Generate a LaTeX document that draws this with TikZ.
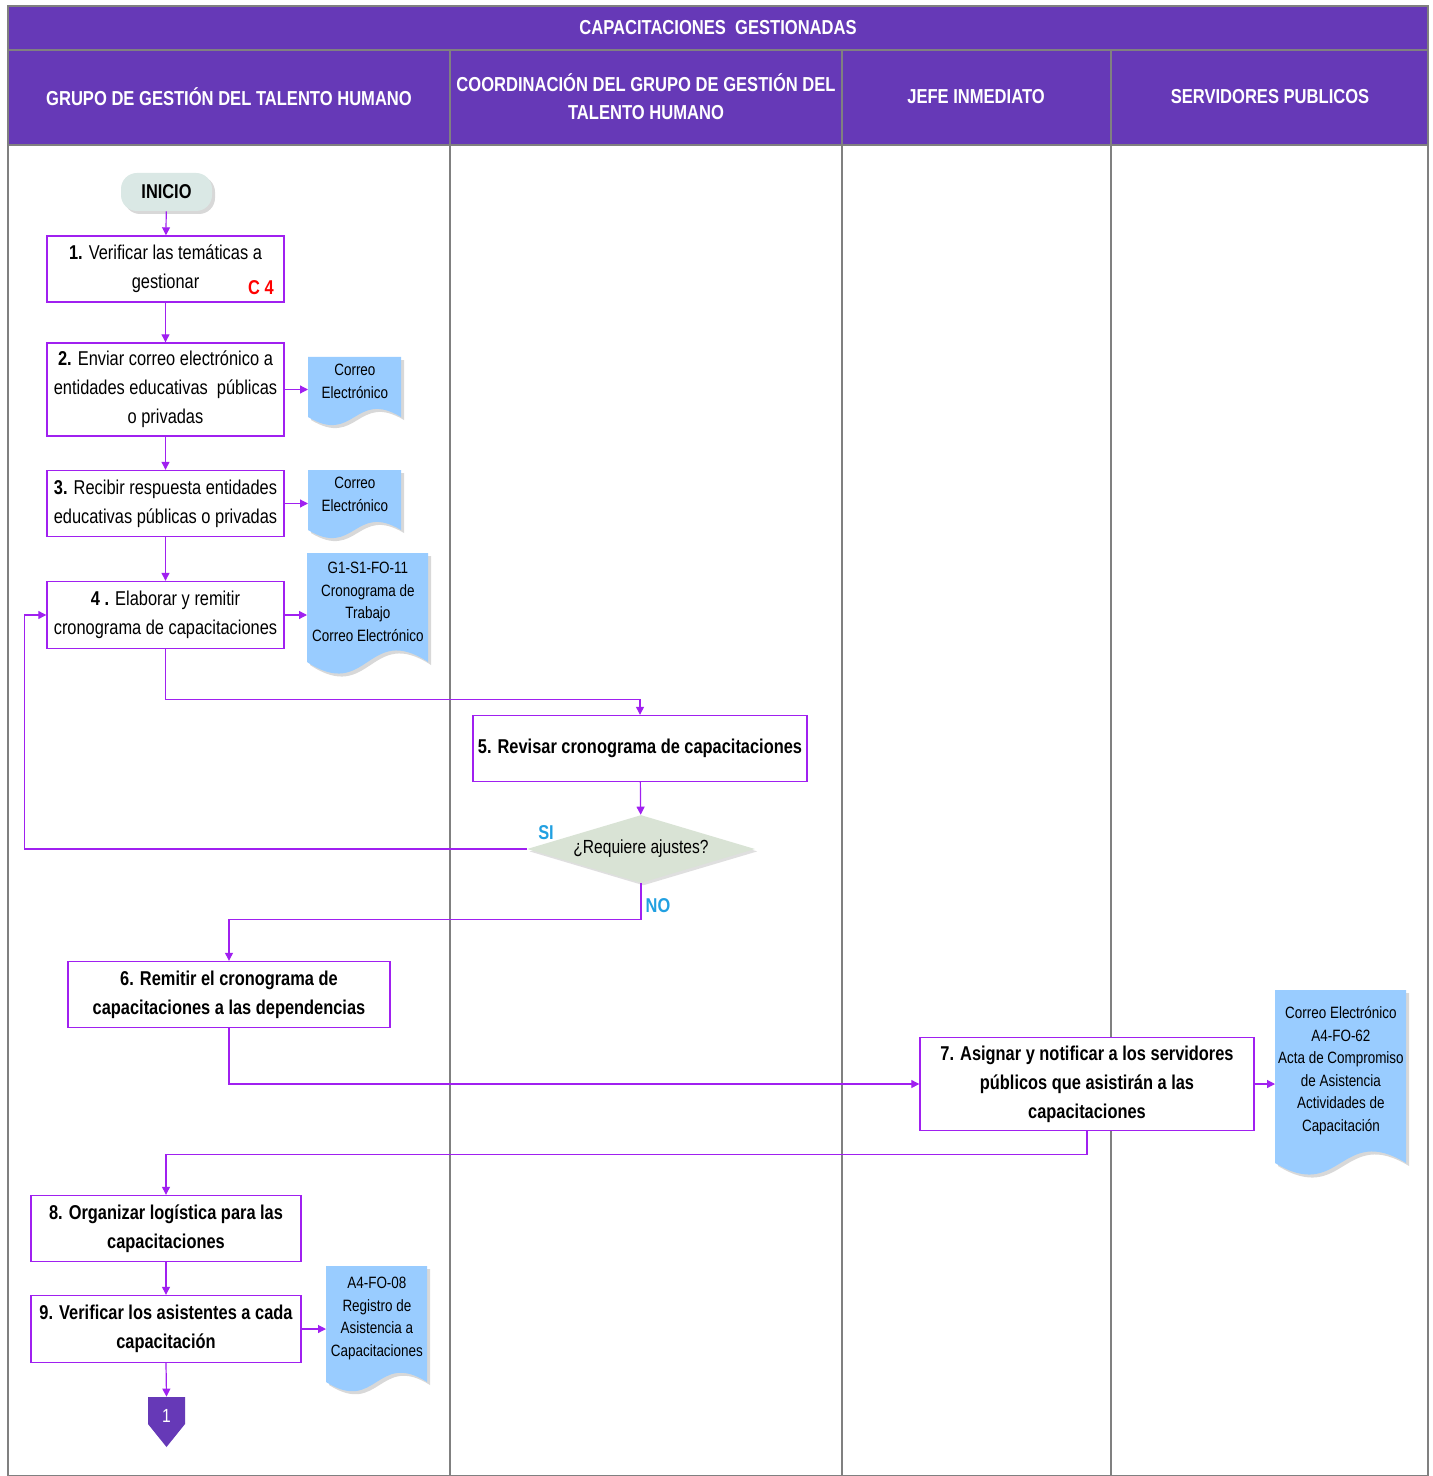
\documentclass[tikz,border=0pt]{standalone}
\usepackage{fontspec}
\setmainfont[FakeStretch=0.82]{Liberation Sans}
\usetikzlibrary{arrows.meta,shapes.geometric,shadows,calc}

\definecolor{headpurple}{RGB}{102,57,183}
\definecolor{flowpurple}{RGB}{160,32,240}
\definecolor{lanegrey}{RGB}{128,128,128}
\definecolor{docblue}{RGB}{153,204,255}
\definecolor{startfill}{RGB}{218,232,229}
\definecolor{decfill}{RGB}{217,227,213}
\definecolor{answerblue}{RGB}{33,160,225}

\tikzset{
  lane/.style={draw=lanegrey, line width=0.6pt},
  hdr/.style={text=white, align=center, font=\bfseries\fontsize{10.1}{14}\selectfont},
  task/.style={draw=flowpurple, line width=0.7pt, fill=white, align=center,
    inner sep=0pt, text=black, font=\fontsize{10}{14.5}\selectfont},
  boldtask/.style={task, font=\bfseries\fontsize{10}{14.5}\selectfont},
  flow/.style={draw=flowpurple, line width=0.6pt, -{Triangle[length=4pt,width=4pt]}},
  doctext/.style={align=center, inner sep=0pt, text=black, font=\fontsize{8.2}{11.25}\selectfont},
  docfill/.style={fill=docblue, drop shadow={shadow xshift=1.5pt, shadow yshift=-1.5pt, opacity=0.3}},
  startbox/.style={fill=startfill, rounded corners=8pt, minimum width=45.5pt, minimum height=19pt,
    inner sep=0pt, font=\bfseries\fontsize{10}{12}\selectfont,
    drop shadow={shadow xshift=1.5pt, shadow yshift=-1.5pt, opacity=0.3}},
  decision/.style={diamond, fill=decfill, inner sep=0pt, minimum width=114pt, minimum height=34pt,
    shape aspect=3.35, font=\fontsize{9.5}{12}\selectfont,
    drop shadow={shadow xshift=1.2pt, shadow yshift=-1.2pt, opacity=0.25}},
  answer/.style={text=answerblue, font=\bfseries\fontsize{10}{12}\selectfont, inner sep=0pt},
  offpage/.style={fill=headpurple},
}

% document symbol: name, left x, top y, width, y of wavy edge ends, wave amplitude, text
\newcommand\docnode[7]{%
  \path[docfill] (#2,#3) -- ({#2+#4},#3) -- ({#2+#4},#5)
    .. controls ({#2+0.5*#4},{#5-#6}) and ({#2+0.5*#4},{#5+#6}) .. (#2,#5) -- cycle;
  \node[doctext, anchor=north west, minimum width={#4*0.5pt},
    minimum height={(#5-#3-12)*0.5pt}] (#1) at (#2,#3) {#7};
}

\begin{document}
\begin{tikzpicture}[x=0.5pt, y=-0.5pt]
\useasboundingbox (0,0) rectangle (1432,1476);
\fill[white] (0,0) rectangle (1432,1476);

% swimlane frame
\fill[headpurple] (8,6) rectangle (1428,145);
\draw[lane] (8,6) rectangle (1428,1476);
\draw[lane] (8,50) -- (1428,50);
\draw[lane] (8,145) -- (1428,145);
\foreach \xx in {450,842,1111} \draw[lane] (\xx,50) -- (\xx,1476);

\node[hdr] (title) at (718,28) {CAPACITACIONES\ \ GESTIONADAS};
\node[hdr] (lane1) at (229,97) {GRUPO DE GESTIÓN DEL TALENTO HUMANO};
\node[hdr] (lane2) at (646,97) {COORDINACIÓN DEL GRUPO DE GESTIÓN DEL\\TALENTO HUMANO};
\node[hdr] (lane3) at (976,97) {JEFE INMEDIATO};
\node[hdr] (lane4) at (1270,97) {SERVIDORES PUBLICOS};

% documents
\docnode{d1}{308}{357}{93}{417}{28}{Correo\\Electrónico}
\docnode{d2}{308}{470}{93}{530}{28}{Correo\\Electrónico}
\docnode{d3}{307}{553}{121}{662}{40}{G1-S1-FO-11\\Cronograma de\\Trabajo\\Correo Electrónico}
\docnode{d4}{1275}{990}{131}{1163}{40}{Correo Electrónico\\A4-FO-62\\Acta de Compromiso\\de Asistencia\\Actividades de\\Capacitación}
\docnode{d5}{326}{1266}{101}{1382}{32}{A4-FO-08\\Registro de\\Asistencia a\\Capacitaciones}

% process steps
\node[startbox] (inicio) at (166.5,192) {INICIO};
\node[task, minimum width=118.5pt, minimum height=33pt] (b1) at (165.5,269)
  {\textbf{1.} Verificar las temáticas a\\gestionar};
\node[text=red, inner sep=0pt, font=\bfseries\fontsize{10}{12}\selectfont] (c4) at (261,288) {C 4};
\node[task, minimum width=118.5pt, minimum height=46.5pt] (b2) at (165.5,389.5)
  {\textbf{2.} Enviar correo electrónico a\\entidades educativas\ \ públicas\\o privadas};
\node[task, minimum width=118.5pt, minimum height=33pt] (b3) at (165.5,503.5)
  {\textbf{3.} Recibir respuesta entidades\\educativas públicas o privadas};
\node[task, minimum width=118.5pt, minimum height=33.5pt] (b4) at (165.5,615)
  {\textbf{4 .} Elaborar y remitir\\cronograma de capacitaciones};
\node[boldtask, minimum width=167pt, minimum height=33pt] (b5) at (640,748.5)
  {5. Revisar cronograma de capacitaciones};
\node[decision] (q) at (641,849) {¿Requiere ajustes?};
\node[boldtask, minimum width=161pt, minimum height=33pt] (b6) at (229,994.5)
  {6. Remitir el cronograma de\\capacitaciones a las dependencias};
\node[boldtask, minimum width=167pt, minimum height=46.5pt] (b7) at (1087,1084)
  {7. Asignar y notificar a los servidores\\públicos que asistirán a las\\capacitaciones};
\node[boldtask, minimum width=135pt, minimum height=33pt] (b8) at (166,1228.5)
  {8. Organizar logística para las\\capacitaciones};
\node[boldtask, minimum width=135pt, minimum height=33.5pt] (b9) at (166,1329)
  {9. Verificar los asistentes a cada\\capacitación};

% off-page connector
\fill[offpage] (148,1397) -- (185,1397) -- (185,1424) -- (166.5,1447) -- (148,1424) -- cycle;
\node[text=white, inner sep=0pt, minimum width=18.5pt, text height=12.5pt, text depth=1pt,
  font=\fontsize{9.5}{12}\selectfont] (c1) at (166.5,1410.5) {1};

% connectors
\draw[flow] (inicio) -- (b1);
\draw[flow] (b1) -- (b2);
\draw[flow] (b2) -- (b3);
\draw[flow] (b3) -- (b4);
\draw[flow] (b2.east) -- (b2.east -| d1.west);
\draw[flow] (b3.east) -- (b3.east -| d2.west);
\draw[flow] (b4.east) -- (b4.east -| d3.west);
\draw[flow] (b4.south) -- ++(0,50) -| (b5.north);
\draw[flow] (b5) -- (q);
\draw[flow] (q.west) -- ++(-502,0) |- (b4.west);
\draw[flow] (q.south) -- ++(0,36) -| (b6.north);
\draw[flow] (b6.south) |- (b7.west);
\draw[flow] (b7.east) -- (b7.east -| d4.west);
\draw[flow] (b7.south) -- ++(0,23) -| (b8.north);
\draw[flow] (b8) -- (b9);
\draw[flow] (b9.east) -- (b9.east -| d5.west);
\draw[flow] (b9.south) -- (c1.north);

\node[answer] (si) at (546,833) {SI};
\node[answer] (no) at (658,906) {NO};
\end{tikzpicture}
\end{document}
